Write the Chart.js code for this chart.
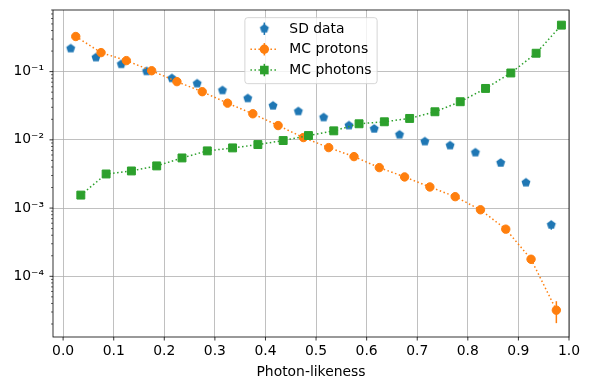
<!DOCTYPE html>
<html><head><meta charset="utf-8">
<script src="https://cdn.jsdelivr.net/npm/chart.js@4/dist/chart.umd.min.js"></script>
<style>html,body{margin:0;padding:0;background:#fff}</style>
</head><body>
<canvas id="c" width="589" height="390"></canvas>
<script>
// ---------------- data ----------------
const sdX = [0.015,0.065,0.115,0.165,0.215,0.265,0.315,0.365,0.415,0.465,0.515,0.565,0.615,0.665,0.715,0.765,0.815,0.865,0.915,0.965];
const sdY = [0.218,0.161,0.128,0.101,0.0797,0.0667,0.0531,0.0405,0.0316,0.0261,0.0213,0.0162,0.0145,0.0119,0.00944,0.00825,0.0065,0.00459,0.00236,0.000567];
const sdErr = [0.00168,0.00144,0.00128,0.00114,0.00101,0.00093,0.00083,0.00072,0.00064,0.00058,0.00052,0.00046,0.00043,0.00039,0.00035,0.00033,0.00029,0.00024,0.00017,0.000085];

const protonX = [0.025,0.075,0.125,0.175,0.225,0.275,0.325,0.375,0.425,0.475,0.525,0.575,0.625,0.675,0.725,0.775,0.825,0.875,0.925,0.975];
const protonY = [0.327,0.19,0.145,0.103,0.0713,0.0508,0.0345,0.0241,0.0162,0.0108,0.0077,0.00568,0.00392,0.00286,0.00204,0.00147,0.000944,0.000491,0.000178,0.0000319];
const protonErr = [0.00114,0.00087,0.00076,0.00064,0.00053,0.00045,0.00037,0.00031,0.00025,0.00021,0.000175,0.00015,0.000125,0.000107,0.00009,0.000077,0.000061,0.000044,0.000027,0.0000113];

const photonX = [0.035,0.085,0.135,0.185,0.235,0.285,0.335,0.385,0.435,0.485,0.535,0.585,0.635,0.685,0.735,0.785,0.835,0.885,0.935,0.985];
const photonY = [0.00155,0.00316,0.0035,0.00415,0.00543,0.00689,0.00762,0.00853,0.00977,0.01156,0.01355,0.0172,0.0184,0.0206,0.0258,0.0362,0.0567,0.0955,0.186,0.48];
const photonErr = [0.00006,0.0001,0.0001,0.00011,0.00013,0.00015,0.00016,0.00017,0.00018,0.0002,0.00022,0.00025,0.00026,0.00028,0.00031,0.00037,0.00046,0.0006,0.00084,0.00135];

const xTicks = [0,0.1,0.2,0.3,0.4,0.5,0.6,0.7,0.8,0.9,1.0];
const xTickLabels = ['0.0','0.1','0.2','0.3','0.4','0.5','0.6','0.7','0.8','0.9','1.0'];
const yMajorTicks = [1e-4,1e-3,1e-2,1e-1];
const yTickLabels = ['10\u207B\u2074','10\u207B\u00B3','10\u207B\u00B2','10\u207B\u00B9'];
const seriesLabels = ['SD data','MC protons','MC photons'];
const xTitle = 'Photon-likeness';
// --------------------------------------

const BLUE='#1f77b4', ORANGE='#ff7f0e', GREEN='#2ca02c';
const FS = 13.9, FAMILY = "'DejaVu Sans', sans-serif";
const Y_MIN = 1.29e-5, Y_MAX = 0.80;

function pentagonCanvas(color, r){
  const s = Math.ceil(2*r+2); const c = document.createElement('canvas');
  c.width = s; c.height = s; const g = c.getContext('2d');
  g.fillStyle = color; g.beginPath();
  for (let i=0;i<5;i++){ const a=-Math.PI/2+i*2*Math.PI/5; g.lineTo(s/2+r*Math.cos(a), s/2+r*Math.sin(a)); }
  g.closePath(); g.fill(); return c;
}
const pent = pentagonCanvas(BLUE, 4.7);

// minor tick values for the log axis (axis structure only)
const yAllTicks = [];
for (let e=-5; e<=0; e++) for (let m=1; m<=9; m++){ const v=m*Math.pow(10,e); if (v>=Y_MIN && v<=Y_MAX) yAllTicks.push(v); }
const isMajor = v => Math.abs(Math.log10(v)-Math.round(Math.log10(v)))<1e-9;

const errs = [sdErr, protonErr, photonErr];

const errorBars = {
  id:'errorBars',
  beforeDatasetsDraw(chart){
    const {ctx, scales:{x,y}} = chart;
    ctx.save(); ctx.lineWidth = 1.5;
    chart.data.datasets.forEach((ds, di)=>{
      ctx.strokeStyle = ds.borderColor;
      ds.data.forEach((p, i)=>{
        const e = errs[di][i]; const px = x.getPixelForValue(p.x);
        ctx.beginPath(); ctx.moveTo(px, y.getPixelForValue(p.y - e)); ctx.lineTo(px, y.getPixelForValue(p.y + e)); ctx.stroke();
      });
    });
    ctx.restore();
  }
};

const frameTicks = {
  id:'frameTicks',
  afterDatasetsDraw(chart){
    const {ctx, chartArea:a, scales:{x,y}} = chart;
    ctx.save(); ctx.strokeStyle='#000';
    ctx.lineWidth = 0.8;
    ctx.strokeRect(a.left, a.top, a.right-a.left, a.bottom-a.top);
    xTicks.forEach(v=>{ const px = x.getPixelForValue(v); ctx.beginPath(); ctx.moveTo(px, a.bottom); ctx.lineTo(px, a.bottom+3.5); ctx.stroke(); });
    yAllTicks.forEach(v=>{
      const py = y.getPixelForValue(v); const maj = isMajor(v);
      ctx.lineWidth = maj ? 0.8 : 0.6;
      ctx.beginPath(); ctx.moveTo(a.left, py); ctx.lineTo(a.left-(maj?3.5:2), py); ctx.stroke();
    });
    ctx.restore();
  }
};

const legendBox = {
  id:'legendBox',
  afterDraw(chart){
    const {ctx, chartArea:a} = chart;
    ctx.save();
    ctx.font = FS+'px '+FAMILY;
    const tw = Math.max(...seriesLabels.map(t=>ctx.measureText(t).width));
    const pad = 0.4*FS, hl = 2*FS, htp = 0.8*FS;
    const w = pad + hl + htp + tw + pad;
    const left = (a.left+a.right)/2 - w/2, top = a.top + 0.5*FS + 0.7;
    const rows = [28.7, 49.2, 70.0].map(v=>v - 17.6 + top);
    const h = 66;
    const r = 2.8;
    ctx.beginPath();
    ctx.moveTo(left+r, top); ctx.lineTo(left+w-r, top); ctx.arcTo(left+w, top, left+w, top+r, r);
    ctx.lineTo(left+w, top+h-r); ctx.arcTo(left+w, top+h, left+w-r, top+h, r);
    ctx.lineTo(left+r, top+h); ctx.arcTo(left, top+h, left, top+h-r, r);
    ctx.lineTo(left, top+r); ctx.arcTo(left, top, left+r, top, r); ctx.closePath();
    ctx.fillStyle='rgba(255,255,255,0.8)'; ctx.fill();
    ctx.strokeStyle='rgba(204,204,204,0.8)'; ctx.lineWidth=1; ctx.stroke();
    const hx0 = left+pad, hx1 = hx0+hl, hc = (hx0+hx1)/2;
    chart.data.datasets.forEach((ds, i)=>{
      const yy = rows[i];
      ctx.strokeStyle = ds.borderColor; ctx.fillStyle = ds.borderColor;
      if (ds.showLine){
        ctx.lineWidth=1.5; ctx.setLineDash([1.5,2.5]);
        ctx.beginPath(); ctx.moveTo(hx0, yy); ctx.lineTo(hx1, yy); ctx.stroke(); ctx.setLineDash([]);
      }
      ctx.lineWidth=1.5; ctx.beginPath(); ctx.moveTo(hc, yy-6.2); ctx.lineTo(hc, yy+6.2); ctx.stroke();
      if (i===0){ ctx.drawImage(pent, hc-pent.width/2, yy-pent.height/2); }
      else if (i===1){ ctx.beginPath(); ctx.arc(hc, yy, 4.7, 0, 2*Math.PI); ctx.fill(); }
      else { ctx.fillRect(hc-4.3, yy-4.3, 8.6, 8.6); }
      ctx.fillStyle='#000'; ctx.textBaseline='middle'; ctx.textAlign='left';
      ctx.fillText(seriesLabels[i], hx1+htp, yy+0.5);
    });
    ctx.restore();
  }
};

Chart.defaults.font.family = FAMILY;
Chart.defaults.font.size = FS;
Chart.defaults.color = '#000';

new Chart(document.getElementById('c'), {
  type:'scatter',
  data:{ datasets:[
    { label:seriesLabels[0], data: sdX.map((x,i)=>({x, y:sdY[i]})), showLine:false,
      pointStyle:pent, pointRadius:5, backgroundColor:BLUE, borderColor:BLUE, order:2 },
    { label:seriesLabels[1], data: protonX.map((x,i)=>({x, y:protonY[i]})), showLine:true,
      borderDash:[1.5,2.5], borderWidth:1.5, pointStyle:'circle', pointRadius:4.2, pointBorderWidth:1,
      backgroundColor:ORANGE, borderColor:ORANGE, order:1 },
    { label:seriesLabels[2], data: photonX.map((x,i)=>({x, y:photonY[i]})), showLine:true,
      borderDash:[1.5,2.5], borderWidth:1.5, pointStyle:'rect', pointRadius:5.6, pointBorderWidth:1,
      backgroundColor:GREEN, borderColor:GREEN, order:0 }
  ]},
  options:{
    responsive:false, animation:false, devicePixelRatio:1,
    layout:{ padding:{ left:0, top:10, right:20, bottom:0 } },
    plugins:{ legend:{display:false}, tooltip:{enabled:false} },
    scales:{
      x:{ type:'linear', min:-0.02, max:1.0,
        afterBuildTicks: s=>{ s.ticks = xTicks.map(v=>({value:v})); },
        afterFit: s=>{ s.height = 53; s.paddingLeft = 0; s.paddingRight = 0; },
        ticks:{ autoSkip:false, maxRotation:0, padding:6, color:'#000',
          callback:(v)=>{ const i = xTicks.findIndex(t=>Math.abs(t-v)<1e-9); return i>=0 ? xTickLabels[i] : ''; } },
        grid:{ color:'#b0b0b0', lineWidth:0.8, drawTicks:false },
        border:{ display:false },
        title:{ display:true, text:xTitle, color:'#000', font:{size:FS}, padding:{top:0, bottom:9} }
      },
      y:{ type:'logarithmic', min:Y_MIN, max:Y_MAX,
        afterBuildTicks: s=>{ s.ticks = yAllTicks.map(v=>({value:v})); },
        afterFit: s=>{ s.width = 53; s.paddingTop = 0; s.paddingBottom = 0; },
        ticks:{ autoSkip:false, padding:9, color:'#000',
          callback:(v)=>{ const i = yMajorTicks.findIndex(t=>Math.abs(Math.log10(t)-Math.log10(v))<1e-9); return i>=0 ? yTickLabels[i] : ''; } },
        grid:{ color: c => (c.tick && isMajor(c.tick.value)) ? '#b0b0b0' : 'rgba(0,0,0,0)', lineWidth:0.8, drawTicks:false },
        border:{ display:false }
      }
    }
  },
  plugins:[errorBars, frameTicks, legendBox]
});
</script>
</body></html>
